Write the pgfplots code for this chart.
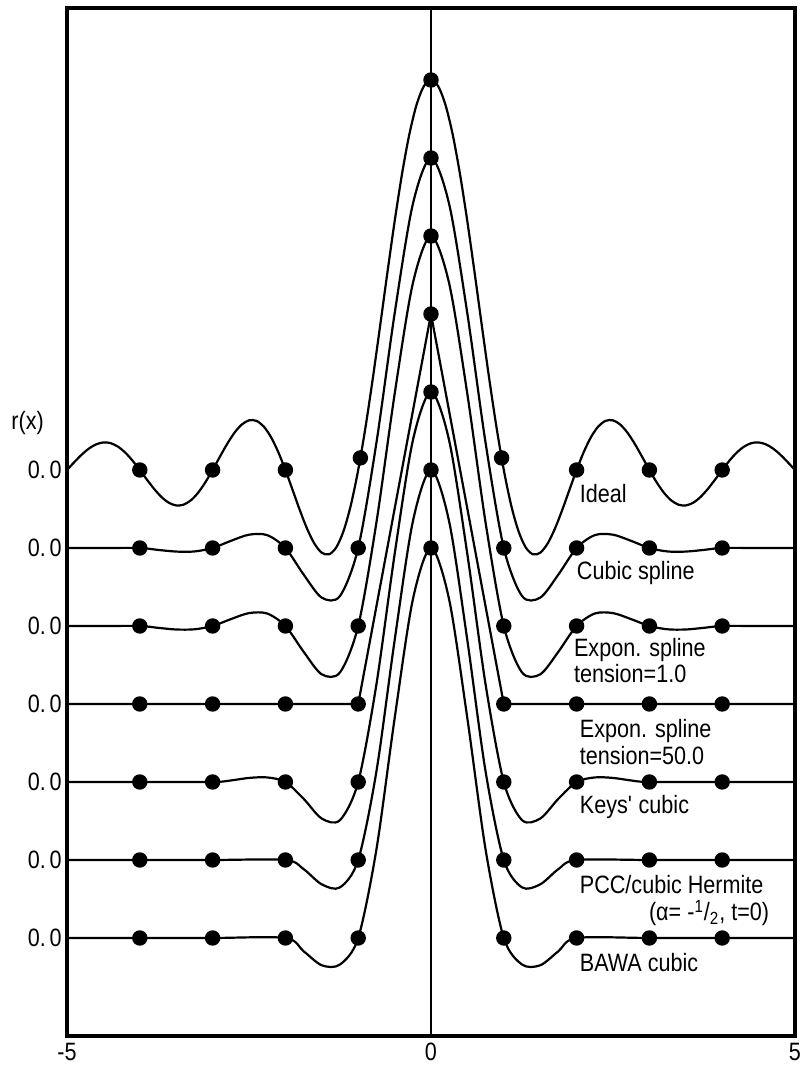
\documentclass[border=0pt]{standalone}
\usepackage{pgfplots}
\pgfplotsset{compat=1.18}
\usepackage{fontspec}
\setmainfont{Liberation Sans}[FakeStretch=0.86]
\newcommand\lab{\fontsize{12.6}{14}\selectfont}
\newcommand\zz{0.\kern1.8bp0}
\begin{document}
\begin{tikzpicture}
\begin{axis}[
  scale only axis, width=364bp, height=514bp,
  xmin=-5, xmax=5, ymin=-0.2513, ymax=2.3846,
  axis line style={line width=1.6bp},
  xtick={-5,0,5}, xticklabels={-5,0,5},
  ytick={0,0.2,0.4,0.6,0.8,1.0,1.2},
  yticklabels={\zz,\zz,\zz,\zz,\zz,\zz,\zz},
  major tick length=0pt,
  tick label style={font=\lab},
  yticklabel style={inner sep=0pt, xshift=-2.5bp},
  xticklabel style={inner sep=0pt, yshift=-3.5bp},
  clip=false,
  every axis plot/.append style={line width=1.1bp, black},
]
% centre line
\addplot[line width=1bp] coordinates {(0,-0.2513) (0,2.3846)};
% Ideal (offset 1.2)
\addplot[smooth] coordinates {
(-5.0,1.2000)(-4.9,1.2201)(-4.8,1.2390)(-4.7,1.2548)(-4.6,1.2658)(-4.5,1.2707)(-4.4,1.2688)(-4.3,1.2599)(-4.2,1.2446)(-4.1,1.2240)
(-4.0,1.2000)(-3.9,1.1748)(-3.8,1.1508)(-3.7,1.1304)(-3.6,1.1159)(-3.5,1.1091)(-3.4,1.1110)(-3.3,1.1220)(-3.2,1.1415)(-3.1,1.1683)
(-3.0,1.2000)(-2.9,1.2339)(-2.8,1.2668)(-2.7,1.2954)(-2.6,1.3164)(-2.5,1.3273)(-2.4,1.3261)(-2.3,1.3120)(-2.2,1.2850)(-2.1,1.2468)
(-2.0,1.2000)(-1.9,1.1482)(-1.8,1.0961)(-1.7,1.0485)(-1.6,1.0108)(-1.5,0.9878)(-1.4,0.9838)(-1.3,1.0019)(-1.2,1.0441)(-1.1,1.1106)
(-1.0,1.2000)(-0.9,1.3093)(-0.8,1.4339)(-0.7,1.5679)(-0.6,1.7046)(-0.5,1.8366)(-0.4,1.9568)(-0.3,2.0584)(-0.2,2.1355)(-0.1,2.1836)
(0,2.2000)
(0.1,2.1836)(0.2,2.1355)(0.3,2.0584)(0.4,1.9568)(0.5,1.8366)(0.6,1.7046)(0.7,1.5679)(0.8,1.4339)(0.9,1.3093)(1.0,1.2000)
(1.1,1.1106)(1.2,1.0441)(1.3,1.0019)(1.4,0.9838)(1.5,0.9878)(1.6,1.0108)(1.7,1.0485)(1.8,1.0961)(1.9,1.1482)(2.0,1.2000)
(2.1,1.2468)(2.2,1.2850)(2.3,1.3120)(2.4,1.3261)(2.5,1.3273)(2.6,1.3164)(2.7,1.2954)(2.8,1.2668)(2.9,1.2339)(3.0,1.2000)
(3.1,1.1683)(3.2,1.1415)(3.3,1.1220)(3.4,1.1110)(3.5,1.1091)(3.6,1.1159)(3.7,1.1304)(3.8,1.1508)(3.9,1.1748)(4.0,1.2000)
(4.1,1.2240)(4.2,1.2446)(4.3,1.2599)(4.4,1.2688)(4.5,1.2707)(4.6,1.2658)(4.7,1.2548)(4.8,1.2390)(4.9,1.2201)(5.0,1.2000)};
\addplot[only marks, mark=*, mark size=3.3bp] coordinates {(-4,1.2)(-3,1.2)(-2,1.2)(-0.97,1.231)(0,2.2)(0.97,1.231)(2,1.2)(3,1.2)(4,1.2)};
% Cubic spline (offset 1.0)
\addplot[smooth] coordinates {
(-5,1)(-4.5,1)(-4,1)(-3.75,0.9951)(-3.5,0.9908)(-3.25,0.9911)(-3,1)(-2.75,1.0182)(-2.5,1.0341)(-2.25,1.0330)
(-2,1)(-1.75,0.9320)(-1.5,0.8726)(-1.25,0.8769)(-1,1)(-0.75,1.2693)(-0.5,1.6005)(-0.25,1.8814)(0,2)
(0.25,1.8814)(0.5,1.6005)(0.75,1.2693)(1,1)(1.25,0.8769)(1.5,0.8726)(1.75,0.9320)(2,1)
(2.25,1.0330)(2.5,1.0341)(2.75,1.0182)(3,1)(3.25,0.9911)(3.5,0.9908)(3.75,0.9951)(4,1)(4.5,1)(5,1)};
\addplot[only marks, mark=*, mark size=3.3bp] coordinates {(-4,1)(-3,1)(-2,1)(-1,1)(0,2)(1,1)(2,1)(3,1)(4,1)};
% Expon. spline tension 1 (offset 0.8)
\addplot[smooth] coordinates {
(-5,0.8)(-4.5,0.8)(-4,0.8)(-3.75,0.7953)(-3.5,0.791)(-3.25,0.7915)(-3,0.8)(-2.75,0.8175)(-2.5,0.833)(-2.25,0.832)
(-2,0.8)(-1.75,0.734)(-1.5,0.676)(-1.25,0.681)(-1,0.8)(-0.75,1.065)(-0.5,1.394)(-0.25,1.678)(0,1.8)
(0.25,1.678)(0.5,1.394)(0.75,1.065)(1,0.8)(1.25,0.681)(1.5,0.676)(1.75,0.734)(2,0.8)
(2.25,0.832)(2.5,0.833)(2.75,0.8175)(3,0.8)(3.25,0.7915)(3.5,0.791)(3.75,0.7953)(4,0.8)(4.5,0.8)(5,0.8)};
\addplot[only marks, mark=*, mark size=3.3bp] coordinates {(-4,0.8)(-3,0.8)(-2,0.8)(-1,0.8)(0,1.8)(1,0.8)(2,0.8)(3,0.8)(4,0.8)};
% Expon. spline tension 50 (offset 0.6)
\addplot[sharp plot, solid, no marks] coordinates {(-5,0.6)(-1,0.6)(0,1.6)(1,0.6)(5,0.6)};
\addplot[only marks, mark=*, mark size=3.3bp] coordinates {(-4,0.6)(-3,0.6)(-2,0.6)(-1,0.6)(0,1.6)(1,0.6)(2,0.6)(3,0.6)(4,0.6)};
% Keys' cubic (offset 0.4)
\addplot[smooth] coordinates {
(-5,0.4)(-4,0.4)(-3,0.4)(-2.75,0.4039)(-2.5,0.4104)(-2.25,0.4117)(-2,0.4)(-1.75,0.357)(-1.5,0.3062)(-1.25,0.3023)
(-1,0.4)(-0.75,0.65)(-0.5,0.9833)(-0.25,1.275)(0,1.4)
(0.25,1.275)(0.5,0.9833)(0.75,0.65)(1,0.4)(1.25,0.3023)(1.5,0.3062)(1.75,0.357)(2,0.4)
(2.25,0.4117)(2.5,0.4104)(2.75,0.4039)(3,0.4)(4,0.4)(5,0.4)};
\addplot[only marks, mark=*, mark size=3.3bp] coordinates {(-4,0.4)(-3,0.4)(-2,0.4)(-1,0.4)(0,1.4)(1,0.4)(2,0.4)(3,0.4)(4,0.4)};
% PCC / cubic Hermite (offset 0.2)
\addplot[smooth] coordinates {
(-5,0.2)(-4,0.2)(-3,0.2)(-2,0.2)(-1.75,0.1766)(-1.5,0.1375)(-1.25,0.1297)
(-1,0.2)(-0.75,0.4266)(-0.5,0.7625)(-0.25,1.0672)(0,1.2)
(0.25,1.0672)(0.5,0.7625)(0.75,0.4266)(1,0.2)(1.25,0.1297)(1.5,0.1375)(1.75,0.1766)(2,0.2)(3,0.2)(4,0.2)(5,0.2)};
\addplot[only marks, mark=*, mark size=3.3bp] coordinates {(-4,0.2)(-3,0.2)(-2,0.2)(-1,0.2)(0,1.2)(1,0.2)(2,0.2)(3,0.2)(4,0.2)};
% BAWA cubic (offset 0)
\addplot[smooth] coordinates {
(-5,0)(-4,0)(-3,0)(-2,0)(-1.75,-0.034)(-1.5,-0.070)(-1.25,-0.068)
(-1,0)(-0.75,0.2266)(-0.5,0.5625)(-0.25,0.8672)(0,1)
(0.25,0.8672)(0.5,0.5625)(0.75,0.2266)(1,0)(1.25,-0.068)(1.5,-0.070)(1.75,-0.034)(2,0)(3,0)(4,0)(5,0)};
\addplot[only marks, mark=*, mark size=3.3bp] coordinates {(-4,0)(-3,0)(-2,0)(-1,0)(0,1)(1,0)(2,0)(3,0)(4,0)};
% labels
\node[anchor=base west, inner sep=0pt, font=\lab] at (axis cs:-5,1.3026) [xshift=-28bp] {r(x)};
\node[anchor=base west, inner sep=0pt, font=\lab] at (axis cs:2.04,1.1154) {Ideal};
\node[anchor=base west, inner sep=0pt, font=\lab] at (axis cs:2.0,0.918) {Cubic spline};
\node[anchor=base west, inner sep=0pt, font=\lab] at (axis cs:1.96,0.723) {Expon. spline};
\node[anchor=base west, inner sep=0pt, font=\lab] at (axis cs:1.96,0.654) {tension=1.0};
\node[anchor=base west, inner sep=0pt, font=\lab] at (axis cs:2.04,0.515) {Expon. spline};
\node[anchor=base west, inner sep=0pt, font=\lab] at (axis cs:2.04,0.446) {tension=50.0};
\node[anchor=base west, inner sep=0pt, font=\lab] at (axis cs:2.04,0.318) {Keys\textquotesingle\ cubic};
\node[anchor=base west, inner sep=0pt, font=\lab] at (axis cs:2.04,0.113) {PCC/cubic Hermite};
\node[anchor=base east, inner sep=0pt, font=\lab] at (axis cs:4.65,0.044) {(α= -\textsuperscript{1}/\textsubscript{2}, t=0)};
\node[anchor=base west, inner sep=0pt, font=\lab] at (axis cs:2.04,-0.085) {BAWA cubic};
\end{axis}
\path ([shift={(-33.5bp,-17.5bp)}]current axis.south west) rectangle ([shift={(4bp,4bp)}]current axis.north east);
\end{tikzpicture}
\end{document}
